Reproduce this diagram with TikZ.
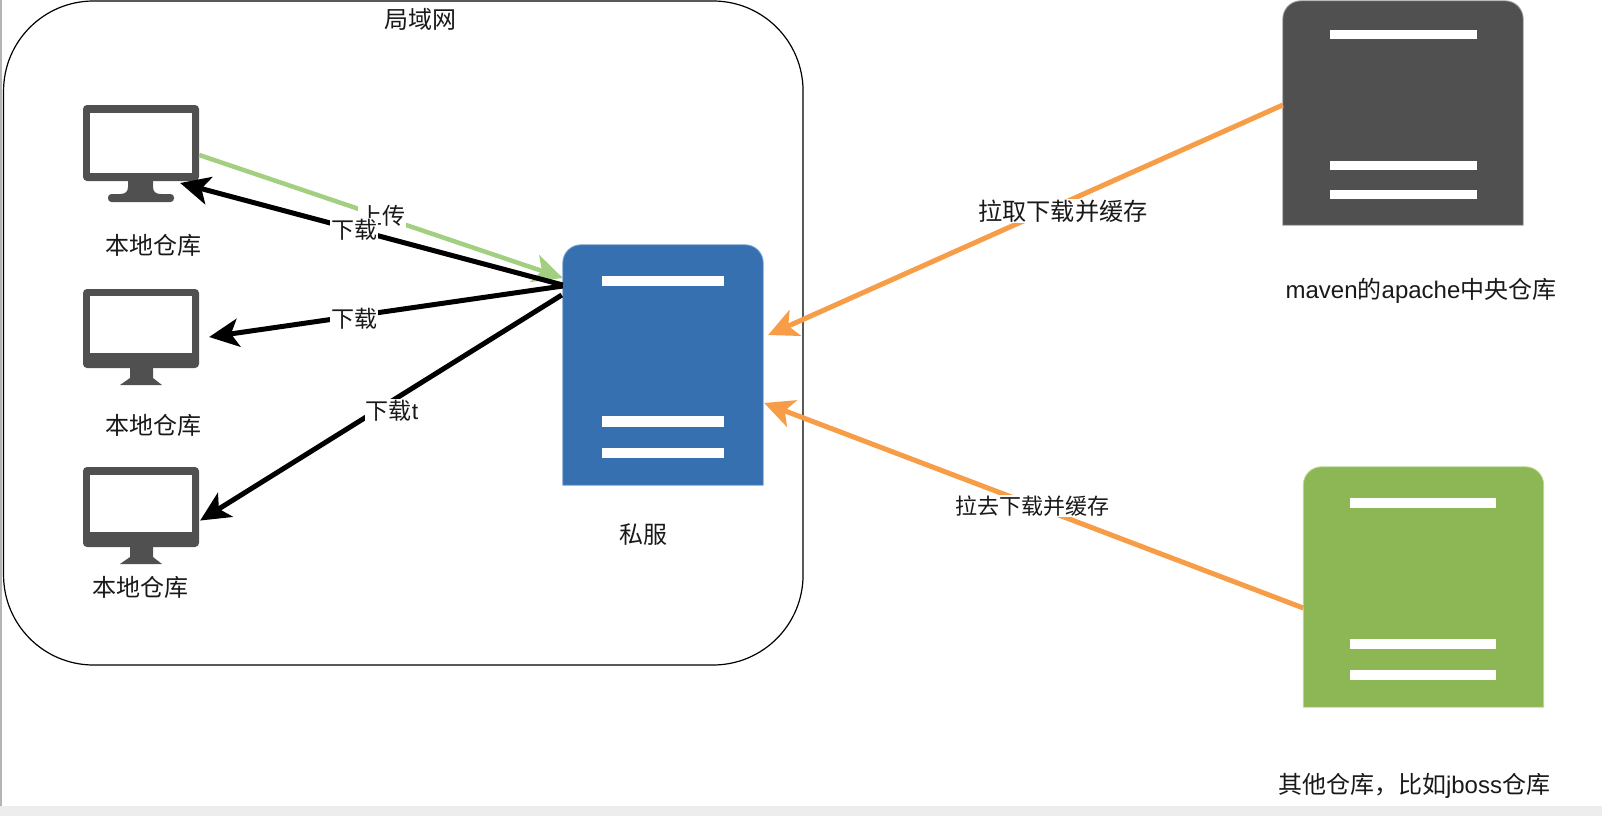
\documentclass[tikz,border=0pt]{standalone}
\usepackage{fontspec}
\setmainfont{Liberation Sans}
\newfontfamily\cjk{Noto Sans CJK SC}
\usetikzlibrary{arrows.meta}
\definecolor{monitorgray}{HTML}{505050}
\definecolor{bluefill}{HTML}{3670B0}
\definecolor{blueedge}{HTML}{7BA3D0}
\definecolor{greenfill}{HTML}{8DB654}
\definecolor{greenedge}{HTML}{BFD99B}
\definecolor{darkedge}{HTML}{A0A0A0}
\definecolor{greenline}{HTML}{A3CF80}
\definecolor{orangeline}{HTML}{F79D47}
\definecolor{chrome}{HTML}{EDEDED}
\definecolor{chromeedge}{HTML}{B4B4B4}
\tikzset{
  lbl/.style={inner sep=1pt,font=\fontsize{24}{28}\selectfont,text=black!90},
  cut/.style={lbl,fill=white},
  bar/.style={fill=white},
  conn/.style={line width=5pt,-{Stealth[length=30pt,width=29pt,inset=8pt,line width=0pt]}},
  upline/.style={conn,line width=4.5pt,draw=greenline,-{Stealth[length=30pt,width=29pt,inset=8pt,line width=0pt,fill=greenline]}},
  downline/.style={conn,draw=black},
  pullline/.style={conn,draw=orangeline,-{Stealth[length=30pt,width=29pt,inset=8pt,line width=0pt,fill=orangeline]}},
}
\begin{document}
\begin{tikzpicture}[x=1pt,y=-1pt]
\useasboundingbox (0,0) rectangle (1602,816);
% window chrome
\fill[chrome] (0,806) rectangle (1602,816);
\draw[chromeedge,line width=1.5pt] (0.8,0) -- (0.8,806);
% LAN box
\node[draw=black,line width=1.2pt,rounded corners=90pt,minimum width=799.5pt,minimum height=664pt,inner sep=0pt] (lan) at (403.3,333) {};
\node[lbl] (lanlabel) at (420,19) {\cjk 局域网};
% monitors
\foreach \t/\st/\sb/\bb in {105/113/173/181, 289/296/353/368, 467/475/532/547}{
  \fill[monitorgray,rounded corners=4pt] (83,\t) rectangle (199,\bb);
  \fill[white] (90,\st) rectangle (192,\sb);
}
\path (141,153) node[minimum width=116pt,minimum height=97pt,inner sep=0pt] (mon1) {};
\path (141,337) node[minimum width=116pt,minimum height=96pt,inner sep=0pt] (mon2) {};
\path (141,515) node[minimum width=116pt,minimum height=97pt,inner sep=0pt] (mon3) {};
% stands
\fill[monitorgray] (128,180) -- (128,187) .. controls (128,192) and (125,194) .. (120,194) -- (161,194) .. controls (156,194) and (153,192) .. (153,187) -- (153,180) -- cycle;
\fill[monitorgray,rounded corners=3.5pt] (108,194) rectangle (174,202);
\fill[monitorgray] (130,368) -- (153,368) -- (153,378) -- (162,385) -- (120,385) -- (130,378) -- cycle;
\fill[monitorgray] (130,547) -- (153,547) -- (153,557) -- (162,564) -- (120,564) -- (130,557) -- cycle;
% blue server
\node[minimum width=200pt,minimum height=240pt,inner sep=0pt] (srv) at (663,365) {};
\filldraw[fill=bluefill,draw=blueedge,line width=0.8pt] (srv.south west) [rounded corners=18pt] -- (srv.north west) -- (srv.north east) [sharp corners] -- (srv.south east) -- cycle;
\foreach \a/\b in {276/286,416/427,448/458} \fill[bar] (602,\a) rectangle (724,\b);
% dark server
\node[minimum width=240pt,minimum height=224pt,inner sep=0pt] (apache) at (1403,113) {};
\filldraw[fill=monitorgray,draw=darkedge,line width=0.8pt] (apache.south west) [rounded corners=18pt] -- (apache.north west) -- (apache.north east) [sharp corners] -- (apache.south east) -- cycle;
\foreach \a/\b in {30/39,161/170,190/199} \fill[bar] (1330,\a) rectangle (1477,\b);
% green server
\node[minimum width=240pt,minimum height=240pt,inner sep=0pt] (other) at (1423.5,587) {};
\filldraw[fill=greenfill,draw=greenedge,line width=0.8pt] (other.south west) [rounded corners=18pt] -- (other.north west) -- (other.north east) [sharp corners] -- (other.south east) -- cycle;
\foreach \a/\b in {498/508,639/649,670/680} \fill[bar] (1350,\a) rectangle (1496,\b);
% connectors
\draw[upline] (mon1.east |- 0,155) -- ([yshift=87pt]srv.west);
\draw[downline] ([yshift=80pt]srv.west) -- ([xshift=-19pt,yshift=-30pt]mon1.east);
\draw[downline] ([yshift=79pt]srv.west) -- ([xshift=10pt,yshift=0pt]mon2.east);
\draw[downline] ([xshift=-1pt,yshift=70pt]srv.west) -- ([xshift=1pt,yshift=-5.5pt]mon3.east);
\draw[pullline] ([yshift=8pt]apache.west) -- ([xshift=5pt,yshift=30pt]srv.east);
\draw[pullline] ([yshift=-21pt]other.west) -- ([xshift=1pt,yshift=-38pt]srv.east);
% labels
\node[cut,font=\fontsize{23}{27}\selectfont] (up) at (382,216) {\cjk 上传};
\node[cut,font=\fontsize{23}{27}\selectfont] (dl1) at (354,230) {\cjk 下载};
\node[cut,font=\fontsize{23}{27}\selectfont] (dl2) at (354,319) {\cjk 下载};
\node[cut,font=\fontsize{23}{27}\selectfont] (dl3) at (392,410.5) {{\cjk 下载}t};
\node[lbl] (l1) at (153,245) {\cjk 本地仓库};
\node[lbl] (l2) at (153,425) {\cjk 本地仓库};
\node[lbl] (l3) at (140,587) {\cjk 本地仓库};
\node[lbl] (lsrv) at (643,535) {\cjk 私服};
\node[cut,font=\fontsize{24.2}{28}\selectfont] (pull1) at (1063,211) {\cjk 拉取下载并缓存};
\node[cut,font=\fontsize{22}{26}\selectfont] (pull2) at (1032,506) {\cjk 拉去下载并缓存};
\node[lbl] (lapache) at (1421,291) {maven{\cjk 的}apache{\cjk 中央仓库}};
\node[lbl] (lother) at (1414,786) {{\cjk 其他仓库，比如}jboss{\cjk 仓库}};
\end{tikzpicture}
\end{document}
